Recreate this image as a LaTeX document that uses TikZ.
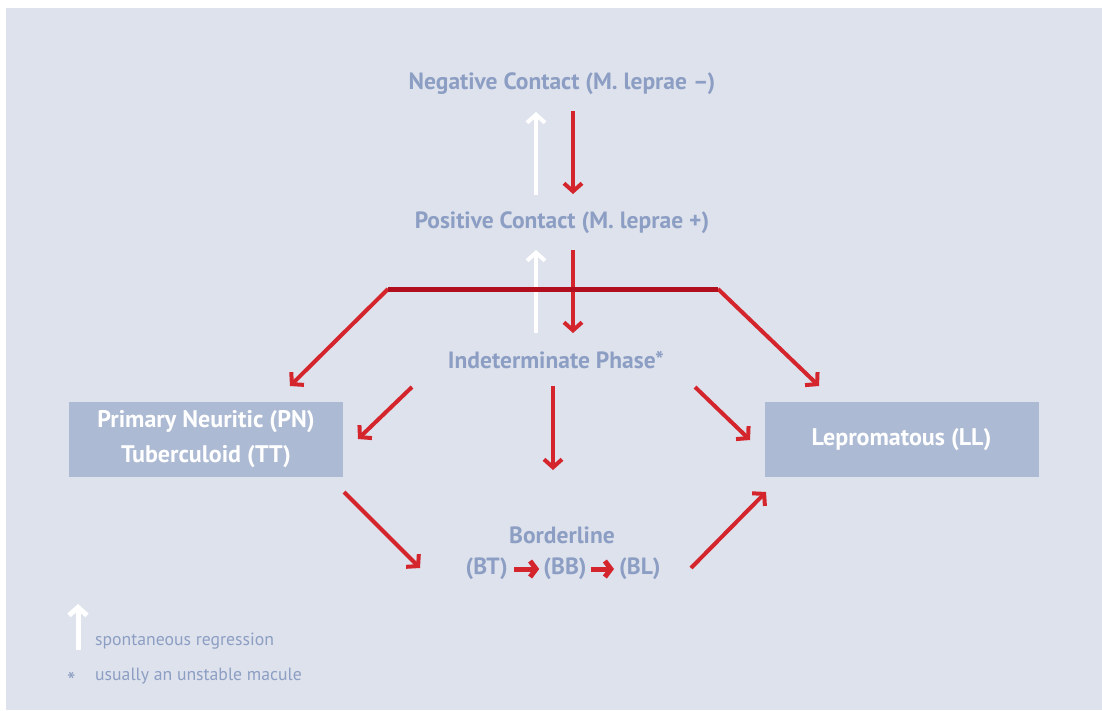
\documentclass[tikz,border=0pt]{standalone}
\usepackage{fontspec}
\setmainfont{PT Sans}
\usetikzlibrary{arrows.meta}
\definecolor{bgc}{HTML}{DEE2EC}
\definecolor{txtc}{HTML}{8C9EC3}
\definecolor{boxc}{HTML}{ADBAD3}
\definecolor{redc}{HTML}{D4242C}
\definecolor{darkred}{HTML}{B20F1E}
\begin{document}
\begin{tikzpicture}[x=1pt,y=-1pt,
  lbl/.style={text=txtc, font=\bfseries\fontsize{23.5}{27}\selectfont, inner sep=0pt},
  boxlbl/.style={fill=boxc, text=white, minimum width=274pt, minimum height=75pt, align=center,
     font=\bfseries\fontsize{24}{35}\selectfont, inner sep=0pt},
  legtxt/.style={text=txtc, font=\fontsize{17.7}{20}\selectfont, inner sep=0pt, anchor=west},
  redarr/.style={draw=redc, line width=4pt, -{Straight Barb[length=8pt, width=18pt, line width=4pt]}},
  whitearr/.style={draw=white, line width=4pt, -{Straight Barb[length=8pt, width=18pt, line width=4pt]}},
  smallarr/.style={draw=redc, line width=5pt, -{Straight Barb[length=6pt, width=16pt, line width=5pt]}}
]
\useasboundingbox (0,0) rectangle (1102,710);
\fill[white] (0,0) rectangle (1102,710);
\fill[bgc] (6,8) rectangle (1102,710);

% labels
\node[lbl] (neg) at (562,84) {Negative Contact (M. leprae –)};
\node[lbl] (pos) at (562,223) {Positive Contact (M. leprae +)};
\node[lbl] (ind) at (556,360) {Indeterminate Phase*};
\node[boxlbl] (tt) at (206,439.5) {Primary Neuritic (PN)\\Tuberculoid (TT)};
\node[boxlbl] (ll) at (901.5,439.5) {Lepromatous (LL)};
\node[lbl] (bord) at (562,535) {Borderline};
\node[lbl] (bb) at (565,569) {(BB)};
\node[lbl, anchor=east] (bt) at (508,569) {(BT)};
\node[lbl, anchor=west] (bl) at (619,569) {(BL)};

% top arrows
\draw[whitearr] (536,195) -- (536,112);
\draw[redarr] (573,111) -- (573,194);
\draw[whitearr] (536,333) -- (536,250);
\draw[redarr] (573,250) -- (573,333);

% branching bar
\coordinate (barl) at (388,289);
\coordinate (barr) at (718,289);
\coordinate (ttin) at (290,386);
\coordinate (llin) at (819,386);
\draw[redarr] (barl) -- (ttin);
\draw[redarr] (barr) -- (llin);
\draw[darkred, line width=5pt] (barl) -- (barr);

% indeterminate arrows
\coordinate (indl) at (412,387);
\coordinate (indr) at (695,387);
\coordinate (indc) at (553,386);
\coordinate (ttin2) at (358,439);
\coordinate (llin2) at (750,440);
\coordinate (bordin) at (553,470);
\draw[redarr] (indl) -- (ttin2);
\draw[redarr] (indr) -- (llin2);
\draw[redarr] (indc) -- (bordin);

% borderline arrows
\coordinate (ttout) at (344,492);
\coordinate (bordl) at (420,568);
\coordinate (bordr) at (691,568);
\coordinate (llout) at (766,492);
\draw[redarr] (ttout) -- (bordl);
\draw[redarr] (bordr) -- (llout);
\draw[smallarr] ([xshift=6pt]bt.east) -- ([xshift=-4pt]bb.west);
\draw[smallarr] ([xshift=4pt]bb.east) -- ([xshift=-5pt]bl.west);

% legend
\draw[white, line width=5pt, -{Straight Barb[length=8pt, width=18pt, line width=5pt]}] (78,650) -- (78,604);
\node[legtxt] (leg1) at (95,641) {spontaneous regression};
\node[legtxt, font=\fontsize{24}{20}\selectfont] (star) at (67,681) {*};
\node[legtxt] (leg2) at (95,676) {usually an unstable macule};
\end{tikzpicture}
\end{document}
